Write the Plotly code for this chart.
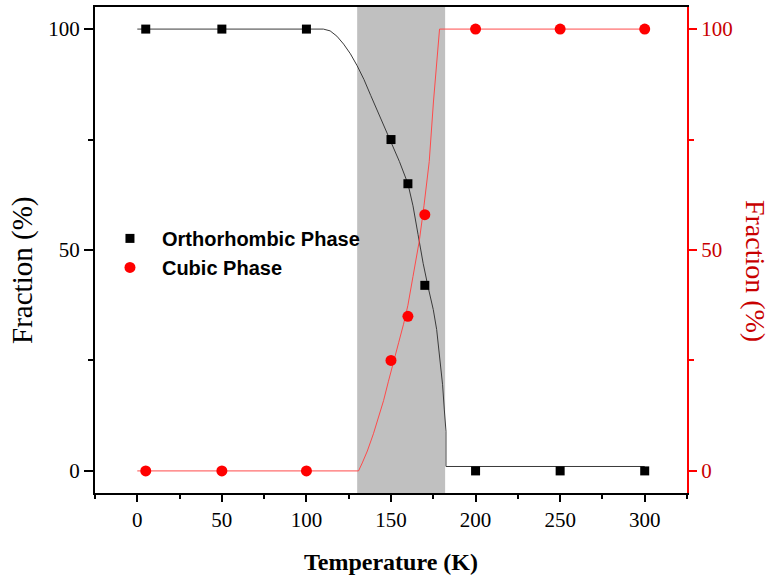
import plotly.graph_objects as go

# Measured data
T_pts = [5, 50, 100, 150, 160, 170, 200, 250, 300]
ortho = [100, 100, 100, 75, 65, 42, 0, 0, 0]
cubic = [0, 0, 0, 25, 35, 58, 100, 100, 100]

# Fitted guide curves
fit_T_ortho = [0, 110, 114, 118, 122, 126, 130, 134, 138, 142, 146, 150, 155, 160, 163, 166,
               169, 172, 175, 177, 179, 180.5, 181.5, 182.5, 182.5, 300]
fit_ortho = [100, 100, 99.6, 98.4, 96.6, 94.4, 91.7, 88.6, 85, 81.4, 77.8, 74.6, 70, 65, 60, 53.5,
             47, 41.5, 36.5, 32, 25.5, 19.5, 14, 9, 1, 1]
fit_T_cubic = [0, 130.8, 133, 136, 139.6, 142.5, 145.6, 148.5, 151.5, 154.5, 157.4, 160, 163,
               166.7, 169.5, 172.6, 175.1, 177.2, 178.7, 300]
fit_cubic = [0, 0, 1.8, 4.5, 8.4, 12, 15.9, 20.3, 24.9, 29, 33.2, 37.5, 44,
             52, 60, 70, 83.5, 92.5, 100, 100]

transition = [130, 182]

x_range = [-25, 325]
y_range = [-5, 105]

names = ["Orthorhombic Phase", "Cubic Phase"]
axis_title_x = "Temperature (K)"
axis_title_y = "Fraction (%)"

SERIF = "Liberation Serif"
SANS = "Liberation Sans"
DARKRED = "#c80000"

fig = go.Figure()

fig.add_shape(type="rect", xref="x", yref="paper",
              x0=transition[0], x1=transition[1], y0=0, y1=1,
              fillcolor="#c0c0c0", line=dict(width=0), layer="below")

fig.add_trace(go.Scatter(x=fit_T_ortho, y=fit_ortho, mode="lines",
                         line=dict(color="#3a3a3a", width=1), showlegend=False,
                         hoverinfo="skip"))
fig.add_trace(go.Scatter(x=fit_T_cubic, y=fit_cubic, mode="lines", yaxis="y2",
                         line=dict(color="#ff4a4a", width=1), showlegend=False,
                         hoverinfo="skip"))
fig.add_trace(go.Scatter(x=T_pts, y=ortho, mode="markers", name=names[0],
                         marker=dict(symbol="square", size=9, color="black")))
fig.add_trace(go.Scatter(x=T_pts, y=cubic, mode="markers", name=names[1], yaxis="y2",
                         marker=dict(symbol="circle", size=11, color="#ff0000")))

fig.add_annotation(text=axis_title_y, xref="paper", yref="paper", x=-0.1216, y=0.457,
                   xanchor="center", yanchor="middle", textangle=-90, showarrow=False,
                   font=dict(family=SERIF, size=29, color="black"))
fig.add_annotation(text=axis_title_y, xref="paper", yref="paper", x=1.1149, y=0.457,
                   xanchor="center", yanchor="middle", textangle=90, showarrow=False,
                   font=dict(family=SERIF, size=28, color=DARKRED))

fig.update_layout(
    width=774, height=587,
    margin=dict(l=95, r=87, t=5, b=94),
    plot_bgcolor="white", paper_bgcolor="white",
    showlegend=True,
    legend=dict(x=0.005, y=0.564, xanchor="left", yanchor="top",
                bgcolor="rgba(0,0,0,0)", itemwidth=54,
                font=dict(family=SANS, size=20, color="black", weight="bold"),
                tracegroupgap=0),
    xaxis=dict(range=x_range, tickmode="linear", tick0=0, dtick=50,
               showline=True, linecolor="black", linewidth=2, mirror=True,
               ticks="outside", ticklen=7, tickwidth=2, tickcolor="black",
               minor=dict(dtick=25, tick0=0, ticks="outside", ticklen=4, tickwidth=2, tickcolor="black"),
               showgrid=False, zeroline=False,
               tickfont=dict(family=SERIF, size=21, color="black"),
               title=dict(text=axis_title_x, standoff=22,
                          font=dict(family=SERIF, size=24, color="black", weight="bold"))),
    yaxis=dict(range=y_range, tickmode="linear", tick0=0, dtick=50,
               showline=True, linecolor="black", linewidth=2,
               ticks="outside", ticklen=9, tickwidth=2, tickcolor="black",
               minor=dict(dtick=25, tick0=0, ticks="outside", ticklen=5, tickwidth=2, tickcolor="black"),
               showgrid=False, zeroline=False,
               tickfont=dict(family=SERIF, size=21, color="black")),
    yaxis2=dict(range=y_range, overlaying="y", side="right", tickmode="linear", tick0=0, dtick=50,
                showline=True, linecolor="#ff0000", linewidth=2,
                ticks="outside", ticklen=8, tickwidth=2, tickcolor="#ff0000",
                minor=dict(dtick=25, tick0=0, ticks="outside", ticklen=5, tickwidth=2, tickcolor="#ff0000"),
                showgrid=False, zeroline=False,
                tickfont=dict(family=SERIF, size=21, color=DARKRED)),
)

fig.write_html("out.html")
